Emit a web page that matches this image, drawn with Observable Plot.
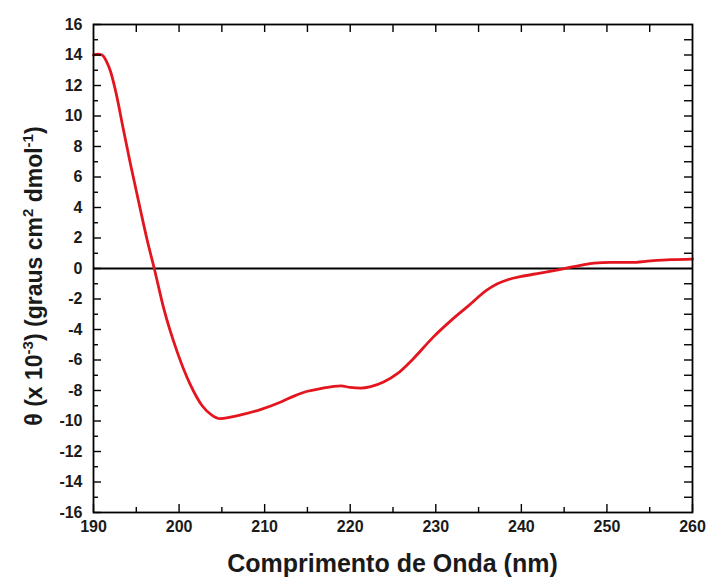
<!DOCTYPE html>
<html><head><meta charset="utf-8">
<script src="https://cdn.jsdelivr.net/npm/d3@7"></script>
<script src="https://cdn.jsdelivr.net/npm/@observablehq/plot@0.6"></script>
<style>body{margin:0;background:#fff} #chart svg{display:block}</style>
</head><body><div id="chart"></div>
<script>
// Data
const wavelength = [190, 190.5, 191, 191.5, 192, 192.6, 193.5, 194.3, 195.5, 196.3, 197.1, 198.2, 199.8, 201.3, 202.7, 203.9, 204.8, 206, 207.2, 209.5, 211.9, 213.5, 215, 216.5, 218.9, 220, 221.2, 222.4, 223.9, 225.5, 227.4, 229.7, 231.7, 233.7, 236, 237.2, 238.5, 240, 242.2, 244.6, 246.9, 248.5, 250.4, 252.8, 255.1, 257.5, 260];
const theta = [14.0, 14.05, 14.0, 13.6, 12.9, 11.6, 9.1, 6.9, 3.8, 1.8, 0, -2.6, -5.5, -7.6, -9.0, -9.65, -9.85, -9.75, -9.6, -9.25, -8.75, -8.35, -8.05, -7.88, -7.7, -7.8, -7.85, -7.75, -7.45, -6.9, -5.9, -4.5, -3.45, -2.5, -1.4, -1.0, -0.72, -0.52, -0.3, -0.05, 0.2, 0.35, 0.4, 0.4, 0.5, 0.58, 0.62];

const xTicks = [190, 200, 210, 220, 230, 240, 250, 260];
const xMinorTicks = [195, 205, 215, 225, 235, 245, 255];
const xTopTicks = [195, 200, 205, 210, 215, 220, 225, 230, 235, 240, 245, 250, 255];
const yTicks = [-16, -14, -12, -10, -8, -6, -4, -2, 0, 2, 4, 6, 8, 10, 12, 14, 16];
const yMinorTicks = [-15, -13, -11, -9, -7, -5, -3, -1, 1, 3, 5, 7, 9, 11, 13, 15];
const yRightTicks = [-15, -14, -13, -12, -11, -10, -9, -8, -7, -6, -5, -4, -3, -2, -1, 1, 2, 3, 4, 5, 6, 7, 8, 9, 10, 11, 12, 13, 14, 15];
const xLabel = "Comprimento de Onda (nm)";
const yLabelParts = [
  {t: "θ (x 10"}, {t: "-3", sup: true}, {t: ") (graus cm"}, {t: "2", sup: true},
  {t: " dmol"}, {t: "-1", sup: true}, {t: ")"}
];

const data = wavelength.map((w, i) => ({w, t: theta[i]}));

const W = 706, H = 579, mL = 93, mR = 14, mT = 24, mB = 67;
const pw = W - mL - mR, ph = H - mT - mB;
const tL = 8, tS = 5;
const tickStyle = {stroke: "#000", strokeWidth: 1.4};

const plot = Plot.plot({
  width: W, height: H,
  marginLeft: mL, marginRight: mR, marginTop: mT, marginBottom: mB,
  style: {fontFamily: "'Liberation Sans', Arial, sans-serif", fontSize: "16px", fontWeight: "bold", color: "#1a1a1a", background: "#fff"},
  x: {domain: [190, 260], label: null},
  y: {domain: [-16, 16], label: null},
  marks: [
    Plot.ruleY([0], {stroke: "#000", strokeWidth: 2}),
    Plot.line(data, {x: "w", y: "t", stroke: "#e3161f", strokeWidth: 2.8, curve: "monotone-x"}),
    // left ticks (inward)
    Plot.tickY(yTicks, {insetRight: pw - tL, ...tickStyle}),
    Plot.tickY(yMinorTicks, {insetRight: pw - tS, ...tickStyle}),
    // right ticks (inward)
    Plot.tickY(yRightTicks, {insetLeft: pw - tL, ...tickStyle}),
    // bottom ticks (inward)
    Plot.tickX(xTicks, {insetTop: ph - tL, ...tickStyle}),
    Plot.tickX(xMinorTicks, {insetTop: ph - tS, ...tickStyle}),
    // top ticks (inward)
    Plot.tickX(xTopTicks, {insetBottom: ph - tL, ...tickStyle}),
    Plot.axisX(xTicks, {tickSize: 0, tickPadding: 8, tickFormat: d => String(d), label: null}),
    Plot.axisY(yTicks, {tickSize: 0, tickPadding: 11, tickFormat: d => String(d), label: null}),
    Plot.frame({stroke: "#000", strokeWidth: 1.8})
  ]
});

document.getElementById("chart").append(plot);

const svg = d3.select(plot);
// x label
svg.append("text")
  .attr("x", mL + pw / 2).attr("y", 572)
  .attr("text-anchor", "middle")
  .attr("fill", "#1a1a1a")
  .style("font", "bold 25px 'Liberation Sans', Arial, sans-serif")
  .text(xLabel);
// y label with superscripts
const yl = svg.append("text")
  .attr("transform", "translate(42,276) rotate(-90)")
  .attr("text-anchor", "middle")
  .attr("fill", "#1a1a1a")
  .style("font", "bold 23px 'Liberation Sans', Arial, sans-serif");
let shifted = false;
for (const p of yLabelParts) {
  const ts = yl.append("tspan").text(p.t);
  if (p.sup) { ts.attr("dy", -9).style("font-size", "15px"); shifted = true; }
  else if (shifted) { ts.attr("dy", 9); shifted = false; }
}
</script>
</body></html>
